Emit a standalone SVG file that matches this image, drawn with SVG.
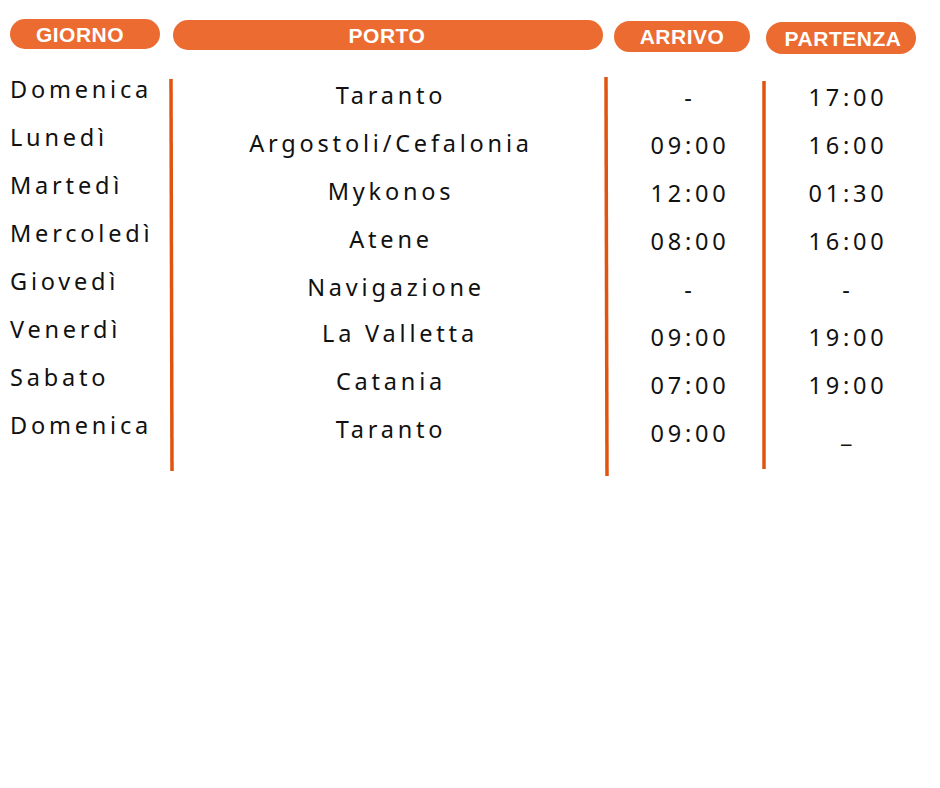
<svg xmlns="http://www.w3.org/2000/svg" width="940" height="788" viewBox="0 0 940 788">
<style>
.pill{fill:#EB6B30}
.hd{fill:#fff;font-family:"Liberation Sans",Arial,sans-serif;font-weight:bold;font-size:21px;letter-spacing:0.5px;text-anchor:middle}
.t{fill:#111;font-family:"Noto Sans","DejaVu Sans",sans-serif;font-size:23.5px;letter-spacing:3.8px}
.c{text-anchor:middle}
.ln{stroke:#E0540F;stroke-width:3.5;fill:none}
</style>
<rect width="940" height="788" fill="#fff"/>
<g id="header-giorno"><rect class="pill" x="10" y="19" width="150" height="30" rx="15"/><text class="hd" x="80" y="42">GIORNO</text></g>
<g id="header-porto"><rect class="pill" x="173" y="20" width="430" height="30" rx="15"/><text class="hd" x="387" y="43">PORTO</text></g>
<g id="header-arrivo"><rect class="pill" x="614" y="21" width="136" height="31" rx="15.5"/><text class="hd" x="682" y="44">ARRIVO</text></g>
<g id="header-partenza"><rect class="pill" x="766" y="22" width="150" height="32" rx="16"/><text class="hd" x="843" y="46">PARTENZA</text></g>
<g id="connectors">
<line class="ln" x1="171" y1="79" x2="172" y2="471"/>
<line class="ln" x1="606" y1="77" x2="607" y2="476"/>
<line class="ln" x1="764" y1="81" x2="764" y2="469"/>
</g>
<g id="giorno">
<text class="t" x="10" y="98">Domenica</text>
<text class="t" x="10" y="146">Lunedì</text>
<text class="t" x="10" y="194">Martedì</text>
<text class="t" x="10" y="242">Mercoledì</text>
<text class="t" x="10" y="290">Giovedì</text>
<text class="t" x="10" y="338">Venerdì</text>
<text class="t" x="10" y="386">Sabato</text>
<text class="t" x="10" y="434">Domenica</text>
</g>
<g id="porto">
<text class="t c" x="391" y="104">Taranto</text>
<text class="t c" x="391" y="152">Argostoli/Cefalonia</text>
<text class="t c" x="391" y="200">Mykonos</text>
<text class="t c" x="391" y="248">Atene</text>
<text class="t c" x="396" y="296">Navigazione</text>
<text class="t c" x="400" y="342">La Valletta</text>
<text class="t c" x="391" y="390">Catania</text>
<text class="t c" x="391" y="438">Taranto</text>
</g>
<g id="arrivo">
<text class="t c" x="690" y="106">-</text>
<text class="t c" x="690" y="154">09:00</text>
<text class="t c" x="690" y="202">12:00</text>
<text class="t c" x="690" y="250">08:00</text>
<text class="t c" x="690" y="298">-</text>
<text class="t c" x="690" y="346">09:00</text>
<text class="t c" x="690" y="394">07:00</text>
<text class="t c" x="690" y="442">09:00</text>
</g>
<g id="partenza">
<text class="t c" x="848" y="106">17:00</text>
<text class="t c" x="848" y="154">16:00</text>
<text class="t c" x="848" y="202">01:30</text>
<text class="t c" x="848" y="250">16:00</text>
<text class="t c" x="848" y="298">-</text>
<text class="t c" x="848" y="346">19:00</text>
<text class="t c" x="848" y="394">19:00</text>
<text class="t c" x="848" y="442">_</text>
</g>
</svg>
